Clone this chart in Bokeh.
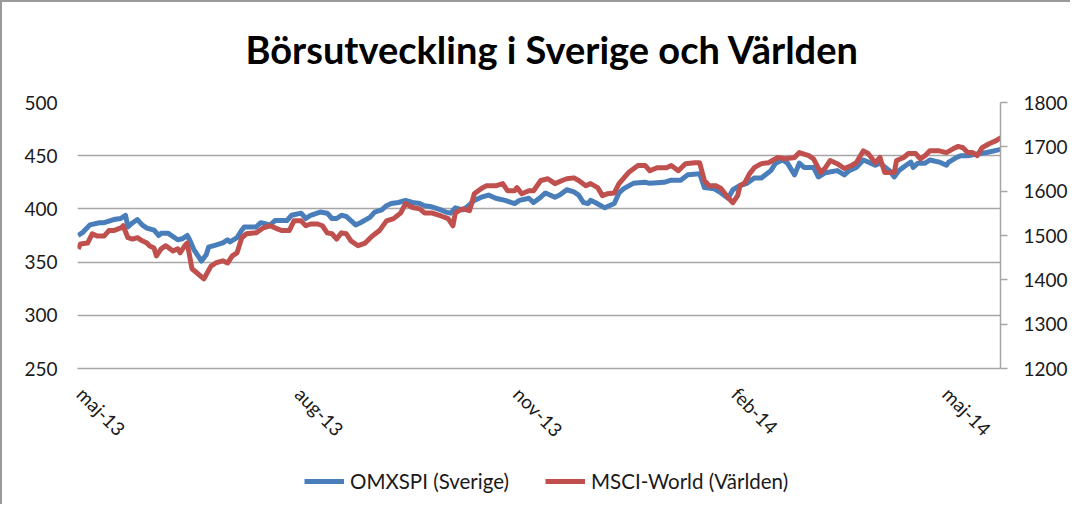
import pandas as pd
from bokeh.plotting import figure
from bokeh.layouts import column
from bokeh.models import (Range1d, LinearAxis, FixedTicker, Legend, LegendItem, Title)
from bokeh.embed import file_html
from bokeh.resources import INLINE

# ---- data ----
start_date = "2013-05-01"
title_text = "Börsutveckling i Sverige och Världen"
series_names = ["OMXSPI (Sverige)", "MSCI-World (Världen)"]

# OMXSPI: days after 2013-05-01 and index level (left axis)
omx_days = [-1, 1, 4, 8, 10, 14, 17, 19, 20, 22,
            24, 26, 28, 31, 33, 34, 37, 41, 43, 45,
            46, 48, 51, 53, 54, 57, 60, 62, 63, 66,
            68, 69, 74, 76, 80, 82, 87, 89, 93, 95,
            97, 101, 104, 106, 108, 110, 112, 114, 116, 118,
            122, 124, 127, 129, 131, 134, 137, 140, 143, 145,
            148, 152, 154, 156, 158, 161, 163, 166, 169, 172,
            175, 179, 183, 185, 189, 191, 194, 196, 200, 202,
            205, 208, 210, 212, 214, 215, 217, 221, 225, 227,
            229, 233, 238, 240, 246, 249, 253, 256, 261, 263,
            267, 270, 273, 275, 278, 281, 284, 287, 291, 293,
            296, 298, 301, 303, 305, 309, 311, 314, 319, 322,
            324, 327, 330, 332, 335, 337, 341, 343, 345, 348,
            350, 351, 353, 356, 358, 362, 365, 366, 369, 371,
            374, 379, 382, 386, 388]
omx_values = [375, 378, 385, 387, 387, 390, 391, 394, 383, 387,
              390, 385, 382, 380, 375, 377, 377, 371, 372, 375,
              371, 361, 351, 357, 364, 366, 368, 371, 369, 373,
              380, 383, 383, 387, 385, 389, 389, 394, 396, 391,
              394, 397, 396, 391, 391, 394, 393, 389, 385, 387,
              392, 397, 399, 403, 405, 406, 408, 406, 405, 403,
              402, 399, 397, 396, 401, 399, 402, 408, 411, 413,
              410, 408, 405, 408, 410, 406, 411, 415, 411, 413,
              418, 416, 413, 406, 405, 408, 406, 401, 405, 415,
              419, 424, 425, 424, 425, 427, 427, 432, 433, 420,
              419, 415, 410, 418, 422, 424, 429, 429, 436, 443,
              446, 443, 432, 443, 439, 439, 430, 434, 436, 432,
              436, 439, 446, 444, 441, 443, 436, 430, 436, 441,
              444, 439, 443, 443, 446, 444, 441, 444, 448, 450,
              450, 452, 453, 455, 456]

# MSCI World: days after 2013-05-01 and index level (right axis)
msci_days = [-1, 0, 3, 5, 7, 10, 12, 14, 17, 18,
             20, 22, 24, 26, 28, 29, 31, 32, 34, 36,
             39, 41, 42, 44, 45, 47, 49, 52, 55, 57,
             60, 62, 64, 66, 68, 70, 74, 77, 80, 83,
             85, 88, 90, 93, 95, 97, 100, 102, 104, 106,
             108, 110, 112, 114, 117, 120, 123, 126, 129, 132,
             135, 137, 140, 143, 145, 148, 152, 155, 157, 158,
             161, 164, 166, 169, 171, 175, 178, 180, 183, 184,
             186, 189, 191, 194, 197, 200, 203, 205, 208, 210,
             213, 215, 218, 220, 222, 225, 227, 231, 235, 238,
             240, 243, 247, 249, 252, 255, 259, 261, 263, 265,
             268, 270, 273, 275, 277, 278, 280, 282, 284, 287,
             290, 294, 297, 301, 303, 307, 309, 312, 314, 316,
             319, 322, 325, 327, 330, 332, 335, 337, 339, 343,
             344, 347, 349, 352, 354, 356, 358, 362, 365, 368,
             370, 372, 374, 376, 378, 380, 383, 386, 388]
msci_values = [1470, 1481, 1483, 1504, 1499, 1499, 1511, 1511, 1517, 1522,
               1495, 1492, 1495, 1488, 1483, 1477, 1472, 1454, 1470, 1477,
               1465, 1470, 1461, 1477, 1483, 1425, 1416, 1402, 1431, 1438,
               1443, 1438, 1454, 1461, 1495, 1504, 1506, 1517, 1522, 1515,
               1511, 1511, 1533, 1533, 1522, 1526, 1526, 1522, 1506, 1504,
               1492, 1506, 1504, 1488, 1477, 1483, 1499, 1511, 1533, 1538,
               1551, 1572, 1563, 1560, 1551, 1551, 1544, 1538, 1522, 1551,
               1560, 1556, 1594, 1606, 1612, 1612, 1617, 1601, 1601, 1608,
               1594, 1601, 1601, 1624, 1628, 1617, 1624, 1628, 1630, 1624,
               1612, 1617, 1608, 1590, 1594, 1596, 1617, 1642, 1658, 1658,
               1646, 1653, 1653, 1658, 1646, 1662, 1664, 1664, 1624, 1612,
               1612, 1606, 1585, 1574, 1590, 1612, 1619, 1639, 1653, 1662,
               1664, 1676, 1673, 1676, 1687, 1680, 1673, 1642, 1653, 1669,
               1662, 1651, 1658, 1664, 1691, 1685, 1664, 1676, 1642, 1642,
               1669, 1676, 1685, 1685, 1673, 1680, 1691, 1691, 1687, 1696,
               1701, 1698, 1687, 1687, 1680, 1698, 1707, 1714, 1721]

tick_dates = ["2013-05-01", "2013-08-01", "2013-11-01", "2014-02-01", "2014-05-01"]
tick_labels = ["maj-13", "aug-13", "nov-13", "feb-14", "maj-14"]
left_ticks = [250, 300, 350, 400, 450, 500]
right_ticks = [1200, 1300, 1400, 1500, 1600, 1700, 1800]

# ---- build ----
t0 = pd.Timestamp(start_date)
omx_x = [t0 + pd.Timedelta(days=d) for d in omx_days]
msci_x = [t0 + pd.Timedelta(days=d) for d in msci_days]

def ms(ts):
    return int(pd.Timestamp(ts).value // 10**6)

FONT = "Lato"
TXT = "#1a1a1a"
GRID = "#a6a6a6"
BLUE = "#4a7ebb"
RED = "#c0504d"

p = figure(width=1068, height=450, x_axis_type="datetime",
           output_backend="svg", toolbar_location=None,
           x_range=Range1d(ms(t0 - pd.Timedelta(hours=30)), ms(t0 + pd.Timedelta(days=387.8))),
           y_range=Range1d(250, 500),
           min_border_left=75, min_border_right=65, min_border_top=100, min_border_bottom=84)
p.extra_y_ranges = {"right": Range1d(1200, 1800)}

p.title = Title(text=title_text, align="left", offset=168, vertical_align="bottom",
                text_font=FONT, text_font_style="bold",
                text_font_size="38px", text_color="#000000", standoff=0)
# thin spacer between the title and the plot area
p.add_layout(Title(text=" ", text_font_size="1px", standoff=28), "above")

p.outline_line_color = None
p.background_fill_color = "white"
p.border_fill_color = "white"

# x axis
xa = p.xaxis[0]
xa.ticker = FixedTicker(ticks=[ms(d) for d in tick_dates])
xa.major_label_overrides = {ms(d): lab for d, lab in zip(tick_dates, tick_labels)}
xa.major_label_orientation = -0.785398
xa.major_label_text_font = FONT
xa.major_label_text_font_size = "19px"
xa.major_label_text_color = TXT
xa.major_label_standoff = 16
xa.axis_line_color = GRID
xa.axis_line_width = 1.5
xa.major_tick_line_color = None
xa.minor_tick_line_color = None
p.xgrid.grid_line_color = None

# left axis
ya = p.yaxis[0]
ya.ticker = FixedTicker(ticks=left_ticks)
ya.axis_line_color = None
ya.major_tick_line_color = None
ya.minor_tick_line_color = None
ya.major_label_text_font = FONT
ya.major_label_text_font_size = "19px"
ya.major_label_text_color = TXT
ya.major_label_standoff = 14
p.ygrid.ticker = FixedTicker(ticks=left_ticks)
p.ygrid.grid_line_color = GRID
p.ygrid.grid_line_width = 1.5

# right axis
ra = LinearAxis(y_range_name="right", ticker=FixedTicker(ticks=right_ticks))
ra.axis_line_color = GRID
ra.axis_line_width = 1.5
ra.major_tick_line_color = GRID
ra.major_tick_line_width = 1.5
ra.major_tick_in = 0
ra.major_tick_out = 7
ra.minor_tick_line_color = None
ra.major_label_text_font = FONT
ra.major_label_text_font_size = "19px"
ra.major_label_text_color = TXT
ra.major_label_standoff = 16
p.add_layout(ra, "right")

p.line(omx_x, omx_values, line_color=BLUE, line_width=5, line_join="round")
p.line(msci_x, msci_values, line_color=RED, line_width=5, line_join="round",
       y_range_name="right")

# legend strip (separate small figure below the chart, no axes)
lg = figure(width=1068, height=52, output_backend="svg", toolbar_location=None,
            x_range=Range1d(0, 1), y_range=Range1d(0, 1),
            x_axis_location=None, y_axis_location=None,
            min_border_left=0, min_border_right=0, min_border_top=0, min_border_bottom=0)
lg.grid.visible = False
lg.outline_line_color = None
lg.border_fill_color = "white"
# swatch renderers kept outside the visible range; only their legend samples show
r1 = lg.line([5, 6], [5, 6], line_color=BLUE, line_width=5)
r2 = lg.line([5, 6], [5, 6], line_color=RED, line_width=5)
legend = Legend(items=[LegendItem(label=series_names[0], renderers=[r1]),
                       LegendItem(label=series_names[1], renderers=[r2])],
                orientation="horizontal", location=(227, 11), padding=4,
                label_text_font=FONT, label_text_font_size="20.5px", label_text_color=TXT,
                glyph_width=40, glyph_height=20, label_standoff=6, spacing=36,
                border_line_color=None, background_fill_alpha=0)
lg.add_layout(legend, "center")

layout = column(p, lg, spacing=0)
layout.styles = {"border-top": "2px solid #9a9a9a", "border-left": "2px solid #9a9a9a"}

open("out.html", "w").write(file_html(layout, INLINE))
